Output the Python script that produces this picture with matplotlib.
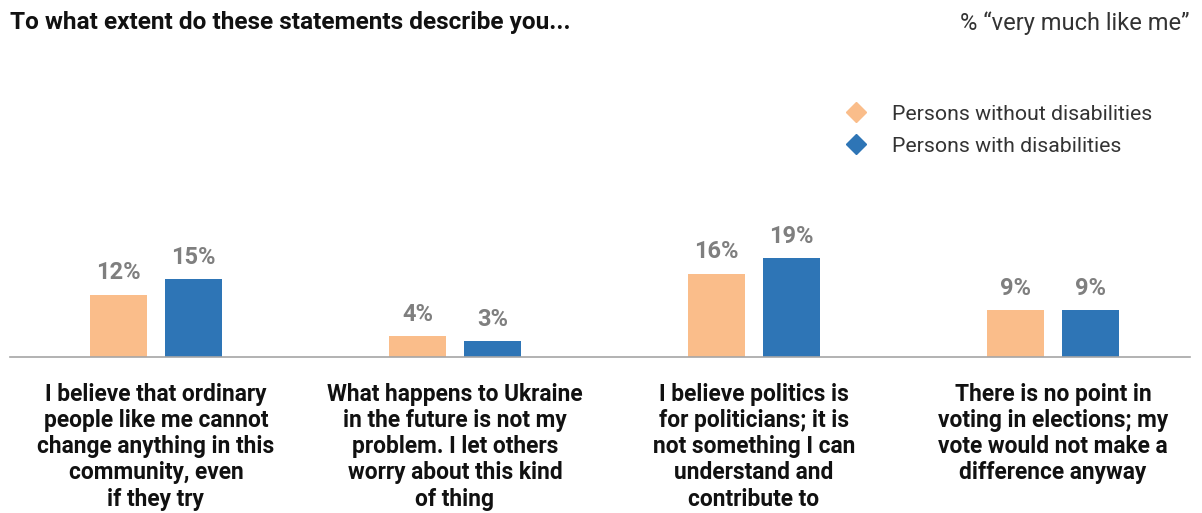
import numpy as np
import matplotlib.pyplot as plt
from matplotlib.lines import Line2D

plt.rcParams['font.family'] = ['Roboto', 'DejaVu Sans']

statements = [
    "I believe that ordinary\npeople like me cannot\nchange anything in this\ncommunity, even\nif they try",
    "What happens to Ukraine\nin the future is not my\nproblem. I let others\nworry about this kind\nof thing",
    "I believe politics is\nfor politicians; it is\nnot something I can\nunderstand and\ncontribute to",
    "There is no point in\nvoting in elections; my\nvote would not make a\ndifference anyway",
]
without_dis = [12, 4, 16, 9]
with_dis = [15, 3, 19, 9]

c_without = '#FABD8A'
c_with = '#2E75B6'
c_label = '#7F7F7F'

W, H = 1202, 513
fig = plt.figure(figsize=(W / 100, H / 100), dpi=100)
ax = fig.add_axes([10 / W, (H - 357) / H, 1180 / W, 297 / H])

x = np.arange(len(statements))
bw = 0.19
off = 0.125
b1 = ax.bar(x - off, without_dis, bw, color=c_without)
b2 = ax.bar(x + off, with_dis, bw, color=c_with)

# value labels above each bar
for bars, vals in ((b1, without_dis), (b2, with_dis)):
    for rect, v in zip(bars, vals):
        ax.annotate(f"{v}%", (rect.get_x() + rect.get_width() / 2, v),
                    xytext=(0, 7.5), textcoords='offset points',
                    ha='center', va='bottom', fontsize=17, fontweight='bold',
                    color=c_label)

ax.set_xlim(-0.488, 3.458)
ax.set_ylim(0, 57.1)
for s in ('top', 'right', 'left'):
    ax.spines[s].set_visible(False)
ax.spines['bottom'].set_color('#A6A6A6')
ax.spines['bottom'].set_linewidth(1.2)
ax.set_yticks([])
ax.set_xticks(x)
ax.set_xticklabels(statements, fontsize=16.4, fontweight='bold',
                   color='#111111', linespacing=1.18)
ax.tick_params(axis='x', length=0, pad=18.5)

fig.text(10 / W, 1 - 23 / H, "To what extent do these statements describe you...",
         ha='left', va='center', fontsize=17.6, fontweight='bold', color='#111111')
fig.text(1190 / W, 1 - 23 / H, "% \u201cvery much like me\u201d",
         ha='right', va='center', fontsize=17, color='#333333')

handles = [
    Line2D([], [], marker='D', linestyle='none', markersize=10,
           color=c_without, label='Persons without disabilities'),
    Line2D([], [], marker='D', linestyle='none', markersize=10,
           color=c_with, label='Persons with disabilities'),
]
fig.legend(handles=handles, loc='upper left', bbox_to_anchor=(826 / W, 1 - 96 / H),
           frameon=False, fontsize=15.3, labelcolor='#333333',
           handletextpad=0.7, labelspacing=0.62, borderaxespad=0)

fig.savefig('out.png', dpi=100)
